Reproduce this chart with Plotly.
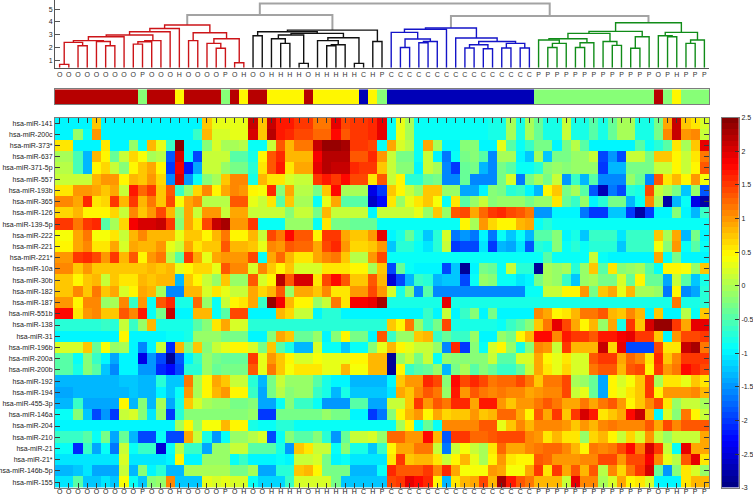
import plotly.graph_objects as go

W = 753
H = 497

mirnas = ["hsa-miR-141", "hsa-miR-200c", "hsa-miR-373*", "hsa-miR-637", "hsa-miR-371-5p", "hsa-miR-557",
          "hsa-miR-193b", "hsa-miR-365", "hsa-miR-126", "hsa-miR-139-5p", "hsa-miR-222", "hsa-miR-221",
          "hsa-miR-221*", "hsa-miR-10a", "hsa-miR-30b", "hsa-miR-182", "hsa-miR-187", "hsa-miR-551b",
          "hsa-miR-138", "hsa-miR-31", "hsa-miR-196b", "hsa-miR-200a", "hsa-miR-200b", "hsa-miR-192",
          "hsa-miR-194", "hsa-miR-455-3p", "hsa-miR-146a", "hsa-miR-204", "hsa-miR-210", "hsa-miR-21",
          "hsa-miR-21*", "hsa-miR-146b-5p", "hsa-miR-155"]

samples = list("OOOOOOOOOPOOOHOOOOPOHOOHHHHOHHHHHCHP"
               "CCCCCCCCCCCCCCCC"
               "PPPPPPPPPPPPPOPHPPP")

# strip colours, given as positions on the same jet scale as the heatmap
group_values = {"O": 2.17, "P": -0.25, "H": 0.44, "C": -2.72}

# expression values, one list per miRNA, 71 samples each
heat_rows = [
    [-1,-1,-1,-1,.7,-.95,-.95,-.95,-.95,-.95, -.95,-.95,-.95,-.95,-.95,-.95,.7,.3,.3,.3, .3,2.1,.7,2.1,1.7,1.7,1.5,1.5,1.2,1.2,
     1.9,1.4,1.5,1.5,1.6,1.9,-.9,.3,0,-.9, -.9,-.9,-.9,-.9,-.9,-.9,-.9,-.8,-.8,0, -.8,0,-.4,-.8,-.8,.1,-.8,-.8,-.5,-.8, -.4,0,0,-.8,-.8,-.3,.9,2.1,.7,.6, .2],
    [-1,-1,-.1,-.9,1,-.95,-.95,-.95,-.95,-.95, -.95,-.95,-.95,-.95,-.95,-.6,.8,.25,.25,.35, .35,2,.7,2.2,1.7,1.6,1.4,1.4,1.25,1.25,
     1.8,1.3,1.5,1.5,1.6,1.9,-.9,.3,0,-.9, -.9,-.9,-.9,-.9,-.9,-.9,-.9,-.8,-.8,0, -.8,0,-.4,-.8,-.8,.1,-.8,-.8,-.5,-.8, -.4,0,0,-.8,-.8,-.3,1.1,2.1,1,1.05, .1],
    [.6,.6,-1,-1,-1,.55,-1,-1,-.1,-.9, .85,.35,-.6,2.5,-1,-1,-.2,.2,0,0, .05,-.9,-.9,.1,1.3,.8,1.15,1.15,2.1,2.4,
     2.4,2.3,1.55,1.55,1.4,-.9,.95,.2,.05,-.9, .9,0,-1,-1,-.2,-.2,-1,-1,.35,-.5, -.9,-.6,-.3,-.3,-1,-.3,.05,-.5,-1,-1, -1,-1,-1,-.5,-.9,-.7,-.5,.6,0,.7, 1.9],
    [0,0,-.55,-1.3,.85,.5,-.4,.15,.65,.4, -.05,.05,-1.8,2,-1,-1.9,.1,.1,.1,-.5, -.5,-.8,.45,1.35,1.6,.85,.85,.85,1.85,2.2,
     2.2,2.2,1.3,1.3,1.6,1,.1,-.3,-.3,-.9, .1,-1,-1.7,-.9,-.3,-.2,-.5,-1.6,0,0, -1,-1.2,0,-1.2,-.3,-.3,-.1,-.1,.15,-1.9, -1.5,-1.9,.1,.1,-.3,.75,.7,.5,.1,.6, 1.15],
    [.05,.05,-.55,-1.3,.45,.65,.1,-.2,.5,.7, .95,.45,-2,1.85,-2.2,-1.4,.1,.1,-.1,-.3, -.3,-.7,.6,1.3,1.65,.6,.9,.9,1.9,2.2,
     2.1,2.1,1.6,1.5,1.5,.75,.1,-.2,-.2,-1, .1,0,-1.6,-2,-.4,-.3,-1.3,-1.6,-.3,-.5, -.9,-.9,-.7,-.2,-.1,-.2,-.1,-.1,-.1,-2, -1.3,-1.3,-.3,-.3,-.3,.1,.1,.5,.1,.45, 1.3],
    [.1,.1,.1,.1,.8,1,1,.45,.8,.7, 1,.65,-1.6,2,-1.5,-.9,-.2,0,.7,1.1, 1.1,-.8,.8,.55,.55,.2,.1,.1,1.5,1.7,
     1.5,1.8,1.45,1.45,.55,1.3,.1,.5,-.7,-.7, -.4,-.3,-1.6,-1.6,-.4,-1.6,-1.6,-1.6,-.3,.2, -1.7,-.3,0,-.3,.1,-1.5,-.6,-1.3,-.5,-1.6, -1.6,-1.6,-.1,-.4,-1.6,1.3,.6,.8,.45,1, .4],
    [.6,.6,1,1,.9,.75,.95,.15,1.7,1.25, 1.5,.7,1.35,-.6,-.1,.65,1.05,.45,.9,1.1, 1,.45,.4,1.6,-.2,.95,.05,.05,-.3,.7,
     1.75,0,0,0,-2.4,-2,.7,.5,.1,-.1, .7,.7,-.1,-.1,-1.4,-1.4,-1,-.2,-.3,-.7, -.6,-1,-1.3,.5,.7,-.3,0,-.5,-1.8,-2.7, -1.7,-1.9,-.7,-.8,1.45,.15,0,-.3,-1.2,-.1, -1.8],
    [1.1,1.1,.9,1.6,.6,.65,1.55,.8,1.5,.85, 1.2,.75,1.4,.4,.95,1.05,.05,.05,.05,1.3, 1.3,.35,.1,.6,-.5,.7,0,0,-.9,.3,
     .9,-.5,-.5,-.5,-2.6,-2.3,.55,-.1,.35,.6, .7,.4,-.9,.55,-.5,-.1,.1,-.2,-.1,-.1, -.1,-.3,-.1,-.1,.55,-.4,-.6,-.1,-1,-.7, -.3,-.3,-1.3,-.9,1.1,0,-2.8,-1.3,-.9,-2.4, -2.8],
    [.65,.65,.8,.45,.45,.45,.65,.1,1.05,.7, 1,1.45,.8,-.1,.9,.1,1,1,.1,.95, .95,.1,.1,.1,.1,-.2,.1,.1,-.3,.8,
     .1,.1,.1,.1,-1,.15,.15,.1,.1,.3, -.1,.75,-.1,1.3,1.45,.9,1.25,1.55,1.6,1.45, 1.3,1.2,-1.5,-1.5,-1,-1,-1,-1.7,-2,-2, -1.2,-1.2,-2,-2.8,-2,-1,-1,-.2,-1,-1.3, -.6],
    [1.5,1.5,1.15,1.5,1.6,-.5,-.05,.65,1.85,2, 2.05,2.15,1.55,-.2,.95,.6,1.4,2.1,2.3,1, 1,1.5,-.9,-.9,-.9,-.1,-.1,-.1,-.9,.55,
     -.3,-.3,-.4,-.4,-.4,-.9,-.9,-.9,-.9,-.9, -.9,-.9,-.9,-.9,.5,0,1,.65,.45,.45, .8,.95,-.9,-.7,-.9,-.9,-.9,-.9,-.9,-.9, -.9,-.9,-.9,-.9,-.9,-.9,-.9,-.9,-.9,-.9, -.9],
    [.4,.4,.9,1.15,.4,.4,.6,.1,.8,1.1, .85,.85,.85,.3,.75,.7,.45,.85,1.15,.5, .5,.85,.15,1.4,1.2,1.75,1.3,1.3,.5,1.5,
     1.5,.9,.7,.7,1,1.9,-1,-.8,-.4,-.8, -1.2,-.7,.2,-1.7,-1.5,-1.7,-1,-1.7,-.9,-1.2, -.9,-1.3,-.5,-.5,-.2,-1,-.8,-1.2,-.6,-.6, -.6,-1.1,-.6,-.6,-.6,.7,0,.9,-1.3,-.3, -1],
    [.45,.45,.95,1.05,.6,.6,.9,.2,.9,.85, .85,1,.3,.1,.95,.6,.7,.7,1.35,.85, .85,.7,.35,1.1,1,1.35,1.25,1.25,.9,1.4,
     1.6,1,.65,.65,.75,1,-1.2,-.7,-.7,-.9, -1.1,-.7,.15,-2,-1.9,-1.9,-1.1,-2,-1.3,-1.4, -1.1,-1.8,-.7,-.8,-.2,-.9,-.7,-.9,-.7,-.7, -.7,-1.2,-.6,-.6,-.6,.4,-.2,1,-.9,-.5, -.9],
    [1,1,1.5,1.6,1.45,1,1.55,.8,1.3,.5, 1,1.2,.05,-.5,1.5,.95,.3,.9,1,1, 1,1.45,-.9,.95,1.25,.85,.6,.6,.9,1.1,
     1.2,.7,.05,.05,1,1.4,-.9,-.9,-.9,-.9, -.9,-.9,-.9,-.9,-.9,-.9,-.9,-.9,-.9,-.9, -.9,-.9,-.9,-.5,-.9,-.9,-.9,-.9,.1,-.9, -.95,-.95,-.95,-.95,-.95,.9,-.9,-.3,-.95,-.95, -.95],
    [1.05,1.05,.7,1,.7,.7,.75,.75,.75,.7, .8,.75,.8,.3,.5,.65,.65,.3,1.3,1.05, 1.05,.2,1.1,.75,.45,.75,.2,.2,.25,.6,
     .6,.6,.45,.45,0,.75,-1.9,-.4,-.9,-.95, -.95,-.95,-1.9,-1.2,-2.9,-1,-.3,-.4,-.9,.15, -.7,-.7,-2.9,0,-.1,0,-.7,-.1,.7,-.5, .55,-.2,-.1,0,-.5,-.9,.45,.45,.4,-.1, .75],
    [.75,.75,.45,.75,.8,.1,.7,.55,.6,.8, .75,.8,.85,-1.3,.75,.45,.1,-.1,.7,-.1, -.1,1.3,.2,.5,2.2,1.3,2,2,.6,1.4,
     1.8,1.3,.75,.75,1.3,.8,-2.5,-1.9,-1.3,-.6, -.7,-1.3,-1.2,-1.2,-1.9,-.9,-.1,-.2,-.9,-.9, -1.1,-1,-.3,0,-.1,-.6,-1.2,-.1,0,-.3, -.3,.2,-.4,.5,-.4,-.4,-1.4,.1,-.5,-1.2, -.8],
    [.75,.75,1.05,.75,1.2,.7,.95,.25,.45,.9, .85,-.05,-1.6,-1.6,.8,.8,.2,.6,.3,.1, .1,.9,.65,.8,1.3,-.1,.95,.95,.75,1.1,
     .55,.55,1,1,1.4,1,.25,-.8,-.2,-1.6, -.5,-1.6,-1.6,-1.6,-1.6,-1.6,-1.6,-1.6,-1.6,-1.6, -1.6,-.9,-.9,.1,.1,.5,.5,1,-.3,.7, .9,.35,.8,0,0,-.1,-1.7,.5,-1.6,-1.4, -.7],
    [1,1,.5,1.05,1.05,-.1,0,1.1,-.6,1, -.9,1.3,1.6,-.8,-.8,1.25,-.1,-.9,.1,.45, .55,.9,-.6,2.4,1.85,.85,.45,.45,-.1,.1,
     1.2,.6,1.85,1.85,1.9,2.3,-.8,-.8,-.8,-.8, -.8,-.8,1.9,-.8,-.8,-.8,-.8,-.8,-.8,-.8, -.8,-.8,-.8,-.8,-.8,-.8,-.8,-.8,-.8,-.8, -.8,-.8,-.8,-.8,-.8,-.8,-.8,1.2,-.8,-.8, -.7],
    [1.8,1.75,.6,1,1.1,.75,.75,1.35,1.1,1.7, -.9,-.3,2.15,-1,-1,.8,.8,-.9,-.5,1.4, 1.4,-1,-1,-1,.8,.65,.15,.15,-1,-.7,
     -.7,-.95,-.95,-.95,-.95,-.95,-.95,-.95,-.95,-.95, -.6,-.95,.1,-.95,-.6,-.2,-.95,-.3,-1,-1, -1,-1,1.1,.9,.45,.6,.85,1.2,1.2,1.35, .8,.7,1.05,.85,-.95,.75,-1,-1,.05,-.9, .75],
    [-.75,-.75,-.75,-.75,-.75,-.65,-.75,.1,-.65,-.1, .8,-.85,-.85,-.85,-.85,-.5,-.2,.55,.9,.2, .2,-.75,-.75,-.75,-.75,-.75,-.75,-.75,-.75,-.75,
     -.75,-.75,-.75,-.75,-.75,-.75,.7,.45,1.2,-.1, -.6,-.3,1.4,-.85,-.85,-.85,-.85,-.85,-.9,-.6, -.5,-.2,.7,1.15,1.9,1.45,.95,.45,.85,-.1, .9,-.8,1.55,.7,2,2.4,2.4,1.55,.9,1.95, 1.95],
    [-1,-1,-1,-1,-1,-1,-1,.45,-1,-1, -.95,-.95,-.9,-.9,-.8,-.1,-.1,-.1,-.3,-.3, -.3,-1,-1,-.2,.9,.75,-.4,-.4,-.1,-1,
     -.2,.45,-.3,-.3,-1,1.3,-.6,-.1,-.1,.7, .85,-.6,-.4,-.6,-.6,-.1,-1,-1,-.1,-.3, .5,.8,1.75,1.75,1.05,1.65,1.55,1.55,1.35,1.7, 1.7,1.85,1.9,1.5,1.5,.7,-1,1,1.4,1.45, 1.5],
    [.2,.2,.2,.75,-.4,.4,-.1,0,-1,-1.6, -.95,.1,-2.1,.8,-.3,.7,-.2,.1,.3,.45, .45,.2,-.3,.75,-.5,-.8,-1.3,-1.3,.2,-.9,
     -.9,-1.2,-.9,-.9,-.2,.3,.85,.5,.3,.15, .1,-.1,-1.6,1.6,-2,-.2,-.9,.2,.5,-.1, -.8,-.2,1.05,1,.15,1.5,.85,.85,.85,2.15, .65,1.9,-1.9,-1.9,-1.9,1.4,.6,.6,2.1,2.3, 1.2],
    [-.5,-.5,-.9,-.2,-.6,-1,-1.4,-1,-1,-2.4, -1.5,-1.9,-2.9,-1.8,-1,-.6,-.1,-.3,-.4,-.4, -.4,1.5,.3,1,.7,.45,.2,.2,.4,.3,
     .3,.3,.5,.5,.85,.85,-2.9,-.1,.1,-.3, .1,-.9,-.1,-.2,-.2,-.2,-.2,.1,-.5,-.5, .2,.2,.9,.45,.35,.6,.2,.25,1.3,1.5, 1.5,.95,1.25,1.05,.6,1.6,.75,1.1,1.5,1.5, 1.5],
    [-.5,-.5,-.8,-.2,-.5,-1.2,-1.6,-1,-1,-1.5, -1.5,-2.1,-2.3,-1.9,-.7,-.7,-.1,-.4,-.3,-.3, -.3,1.3,.35,1.2,.75,.4,.55,.55,.55,.35,
     .35,.8,.4,.4,.85,.85,-2.9,.45,-.6,-.5, -.4,-.1,-1.3,-.3,0,-.5,-.2,-.4,-.6,-.6, -.4,.15,.95,.6,.35,.65,.25,.2,1.2,1.3, 1.3,.8,1.3,1.45,.5,1.5,1,1.15,1.8,1.6, 1.45],
    [-1.3,-1.3,-1.3,-1.3,-1.3,-1.3,-1.3,-1.2,-1.2,-1.3, -1.3,-.7,-1.2,-1.2,1.2,0,.5,.9,.75,.1, .1,-.7,-1.3,-.3,.1,-.1,-.1,-.1,-.5,-.8,
     -1,-1,-1.3,-1.3,-1.3,-1.3,-1,.7,1,1, 1.6,1.4,-.2,1.8,1.4,1.6,1.4,1.2,1.25,1.25, 1.4,1.2,.7,1.2,1.2,1.45,0,-.1,-.4,-1.4, .45,.2,.4,.7,1.5,0,.6,.6,.35,.7, .6],
    [-1.4,-1.4,-1.35,-1.35,-1.3,-1.3,-1.3,-1.3,-1.25,-1.3, -1.3,-1,-1.2,-.9,1,0,.5,.85,1,.45, .45,-.6,-1.4,-.3,.05,-.2,-.1,-.1,-.6,-.8,
     -1.3,-.8,-1.2,-1.2,-1.2,-1.2,-1.1,.9,.7,1.1, 1.3,1.2,-.1,1.7,1,1.35,1.2,1.1,1.2,1.1, 1.1,.9,1,1.1,1.1,1.4,.1,.3,-.4,-1.4, .45,.3,.55,.7,1.5,.5,1,1,1,1.1, .8],
    [-1.3,-1.3,-.6,-1.4,-1.4,-1.4,-1.4,.45,-1.3,-.2, -1.3,0,-1.4,-.8,.7,.2,0,-.1,-.1,-.3, -.3,-.2,-1.4,-1.4,-.9,-.2,-.6,-.6,-.9,-1.5,
     -1.5,-1.5,-.5,-.5,-1.4,-1.4,.1,.1,.7,1.5, 1,1.3,1.2,1.6,1.6,.9,1.7,1.7,1,.7, 1,1,1.2,1.3,1.2,.9,.9,1.2,.9,1.2, 1.3,1,.45,.7,1.05,1.4,.55,-.1,.1,.1, 0],
    [-.9,-.9,-.2,-1.2,-1.9,-1.5,-2,.1,.25,-.2, -1.1,-.1,-2,-.7,-.2,-.2,-.2,-.2,-.2,-.2, -.2,-.1,-2,-2,-.3,-.3,-.3,-.3,-.3,-.1,
     -.3,-.3,-1,-1,-2,-1.7,-.2,.5,.8,1, .45,.9,.65,.75,.75,1,.7,.8,1.25,1.25, .9,.5,1.35,.9,1.55,.7,1.55,2,1.7,.6, .75,.95,1.8,2.1,.8,-1,.2,-.2,1.15,.5, .15],
    [-1,-1,-1,-1,-1,-1,-1,-1,-1,-1, -1,-1,-1,0,.45,-.1,.4,.4,.8,.45, .45,-.8,-.9,-.9,-.7,-.7,-.9,-.9,-.9,-.9,
     -.9,-.9,-.9,-.9,-.9,-.9,-.9,0,.45,-.9, -.4,-.9,1.1,1.1,1.1,1.1,1.3,1.3,.35,.7, 1.05,.85,1.05,1.1,1.1,1,.7,1,.8,1.1, 1.2,1.05,1.05,1.05,1.35,.9,1.4,1.1,1.35,1.35, 1.35],
    [-.6,-.6,-.6,-.5,-.9,-.3,-1.4,-.4,-1.3,-1.9, -1.9,-.9,-1.9,-1.9,.9,.15,-.8,-1.5,-.9,-.1, -.1,.05,.2,-1.9,-.9,-.2,-.45,-.45,-.2,-.7,
     -1.5,-.4,.1,.1,.2,-.1,1.25,1.25,1,1, 1.75,.8,-1.8,1.5,1.5,1.25,1.25,1.3,1.4,1.4, 1.4,1.1,1,.6,.85,.55,.55,-.1,.65,.8, .5,.1,.65,.2,1,.1,-.1,.15,.15,.15, .9],
    [-.9,-.9,-2.1,-.6,-1.4,-.9,-1.7,.1,-.9,-.6, -.6,-2.5,-.9,.05,-.6,-.6,-1.4,-.1,-.1,.1, .1,-.5,-.5,-.5,-.8,-1.5,.7,.55,.1,.1,
     -.9,-.2,-.8,-.8,-1.2,-.6,.5,.9,.9,1.15, 1.15,.1,-1.7,.1,.4,.1,0,.6,1.25,.9, .9,1.1,1.2,1.25,1.25,1.1,.85,.45,1.2,1.05, 1.2,1.4,1.8,1.2,2,1.5,.1,-.9,1.9,.9, .9],
    [-1.1,-1.1,-1.1,-1.1,-1.1,-1.1,-1.1,.2,-1.1,-1.1, -1.1,-1.1,-1,.45,-1,-1,-.1,-.1,-.1,-.9, -.6,-1,-1,-1,-.9,-1,.15,.15,.25,-.3,
     -1,-.9,-1.05,-1.05,-1.05,-1.05,.6,1.5,.7,.85, .85,.6,.15,.5,.8,.3,0,.5,1,.6, .45,.45,1.35,1.25,1,1,1,1.05,1.05,1.4, 1.4,1,1.45,1.45,1.85,1.05,.35,.05,1.3,1.9, .6],
    [-1.3,-1.3,-1.2,-1.05,-1.4,-1.4,-1.4,.15,-1.3,-.2, -1,-.7,-1.3,-1.3,0,0,0,0,0,-.3, -.3,0,-1.4,-1.4,-.7,-.7,.7,.8,.5,-.3,
     -.3,-.3,-1.3,-1.3,-1.3,-.9,1.6,1.35,1.3,1.35, 1.5,1.05,1.6,.95,.4,.4,.4,1,.9,.4, .4,.9,1.5,.6,1.5,.9,1.35,.8,1.35,.05, 1.1,.65,1.2,1.5,2,-.4,-1.5,-.2,.6,.2, -.1],
    [-1.05,-1.05,-.5,-1.2,-1.2,-1.05,-1.25,.4,-.9,-1.2, -.2,-.1,1.05,-1.2,-1.2,-1.2,.3,.25,.3,.2, .2,-.9,-1.15,-1.15,-1.15,-.6,.25,.25,.25,.25,
     -.3,-1.2,-1.2,-1.2,-1.2,-1.2,1.4,1.5,1.9,1.8, 1.6,.5,-1.3,.6,.8,.9,1.4,.8,2.3,1.7, 1.3,1.2,.8,.8,.8,.1,1.9,1.1,1.05,0, .2,.9,.45,.6,.2,-1,-1,-1,.55,.85, .85],
]
for row in heat_rows:
    assert len(row) == 71, len(row)
assert len(heat_rows) == 33 and len(samples) == 71

# dendrogram merges as (height, left, right), a plain int is a leaf
n1 = (2.39, (0.66, 0, 1), (2.12, 2, 3))
n2 = (2.46, 4, (2.12, 5, 6))
n3 = (2.83, (2.52, n1, n2), 7)
n4 = (2.52, (2.44, (2.25, 8, 9), 10), 11)
n5 = (3.48, (3.22, (2.96, n3, n4), 12), 13)
n6 = (2.67, (2.31, 16, (1.92, 17, 18)), (0.79, 19, 20))
red_tree = (3.75, n5, (3.14, (2.52, 14, 15), n6))

b1 = (2.96, (2.67, 23, (2.31, 24, 25)), (0.74, 26, 27))
b2 = (2.52, 28, (2.2, (2.12, 29, 30), 31))
b3 = (3.09, b1, (2.75, b2, (0.74, 32, 33)))
black_tree = (3.35, (3.22, (2.91, 21, 22), b3), (2.46, 34, 35))

c1 = (2.65, (1.99, 37, 38), (2.46, (2.36, 39, 40), 41))
c2 = (3.41, (3.17, 36, c1), 42)
c3 = (2.46, (2.2, (1.94, 44, 45), (1.89, 46, 47)), (2.31, (1.94, 48, 49), (1.94, 50, 51)))
blue_tree = (3.51, c2, (2.73, 43, c3))

g1 = (2.67, (2.57, 52, (2.31, (1.99, 53, 54), 55)), (2.36, (1.99, 56, 57), 58))
g2 = (3.09, g1, (2.46, 59, (2.15, 60, 61)))
g3 = (3.25, g2, (2.83, (1.92, 62, 63), 64))
g4 = (3.17, (2.91, 65, (2.83, 66, 67)), (2.57, (2.31, 68, 69), 70))
green_tree = (3.93, g3, g4)

upper_left = 4.53
upper_right = 4.45
upper_top = 5.44
tree_base = 0.4

colorbar_levels = [-3, -2.5, -2, -1.5, -1, -0.5, 0, 0.5, 1, 1.5, 2, 2.5]
colorbar_labels = ["-3", "-2.5", "-2", "-1.5", "-1", "-0.5", "0", "0.5", "1", "1.5", "2", "2.5"]


def jet_scale(n=64):
    # matlab style jet, in n flat steps
    def clip(v):
        return max(0.0, min(1.0, v))
    stops = []
    for i in range(n):
        t = (i + 0.5) / n
        r = clip(min(4 * t - 1.5, -4 * t + 4.5))
        g = clip(min(4 * t - 0.5, -4 * t + 3.5))
        b = clip(min(4 * t + 0.5, -4 * t + 2.5))
        col = "rgb(%d,%d,%d)" % (r * 255, g * 255, b * 255)
        stops.append([i / n, col])
        stops.append([(i + 1) / n, col])
    return stops


def tree_lines(node, xs, ys):
    """Walk a merge tree, add its U shapes, give back (x, height) of its top."""
    if isinstance(node, int):
        return node, tree_base
    h, left, right = node
    xl, hl = tree_lines(left, xs, ys)
    xr, hr = tree_lines(right, xs, ys)
    xs += [xl, xl, xr, xr, None]
    ys += [hl, h, h, hr, None]
    return (xl + xr) / 2, h


def add_tree(fig, node, color):
    xs, ys = [], []
    tree_lines(node, xs, ys)
    fig.add_trace(go.Scatter(x=xs, y=ys, mode="lines", xaxis="x2", yaxis="y2", hoverinfo="skip",
                             line=dict(color=color, width=1.4), showlegend=False))


scale = jet_scale()
fig = go.Figure()

fig.add_trace(go.Heatmap(z=heat_rows, x=list(range(71)), y=list(range(33)), zmin=-3, zmax=2.5,
                         colorscale=scale, showscale=False))

fig.add_trace(go.Heatmap(z=[[group_values[s] for s in samples]], x=list(range(71)), y=[0], zmin=-3, zmax=2.5,
                         colorscale=scale, showscale=False, xaxis="x3", yaxis="y3"))

# the colorbar is its own little heatmap, plotly's own one pushes the margins around
bar_steps = [-3 + 5.5 * (i + 0.5) / 64 for i in range(64)]
fig.add_trace(go.Heatmap(z=[[v] for v in bar_steps], x=[0], y=bar_steps, zmin=-3, zmax=2.5,
                         colorscale=scale, showscale=False, xaxis="x4", yaxis="y4"))

# upper gray merges, the clusters below keep their own colour
gx, gy = [], []
xa, ha = tree_lines(red_tree, [], [])
xb, hb = tree_lines(black_tree, [], [])
xc, hc = tree_lines(blue_tree, [], [])
xd, hd = tree_lines(green_tree, [], [])
gx += [xa, xa, xb, xb, None, xc, xc, xd, xd, None]
gy += [ha, upper_left, upper_left, hb, None, hc, upper_right, upper_right, hd, None]
mid_l = (xa + xb) / 2
mid_r = (xc + xd) / 2
gx += [mid_l, mid_l, mid_r, mid_r]
gy += [upper_left, upper_top, upper_top, upper_right]
fig.add_trace(go.Scatter(x=gx, y=gy, mode="lines", xaxis="x2", yaxis="y2", hoverinfo="skip",
                         line=dict(color="#a3a3a3", width=2), showlegend=False))
add_tree(fig, red_tree, "#cc1418")
add_tree(fig, black_tree, "#111111")
add_tree(fig, blue_tree, "#1414c8")
add_tree(fig, green_tree, "#108c18")

label_font = dict(family="Liberation Sans", size=7, color="#222222")
x_dom = [55 / W, 709 / W]
y_dom = [1 - 487.7 / H, 1 - 117.5 / H]
axis_gray = "#7d7d7d"

fig.update_layout(
    width=W, height=H, margin=dict(l=0, r=0, t=0, b=0, autoexpand=False), paper_bgcolor="white",
    plot_bgcolor="white", showlegend=False,
    xaxis=dict(domain=x_dom, range=[-0.5, 70.5], tickmode="array", tickvals=list(range(71)), ticktext=samples,
               tickangle=0, ticks="inside", ticklen=5, tickcolor="#3a3a3a", tickwidth=1, tickfont=label_font,
               ticklabelstandoff=-3, showline=True, linecolor=axis_gray, mirror="ticks", showgrid=False,
               zeroline=False, anchor="y", automargin=False),
    yaxis=dict(domain=y_dom, range=[32.5, -0.5], tickmode="array",
               tickvals=list(range(33)), ticktext=mirnas, ticks="inside", ticklen=5, tickcolor="#3a3a3a", tickwidth=1,
               tickfont=label_font,
               showline=True, linecolor=axis_gray, mirror="ticks", showgrid=False, zeroline=False, anchor="x",
               automargin=False),
    xaxis2=dict(domain=x_dom, range=[-0.5, 70.5], tickmode="array", tickvals=list(range(71)), ticktext=samples,
                tickangle=0, ticks="", tickfont=dict(family="Liberation Sans", size=7, color="#333333"),
                showline=True, linecolor="#555555", showgrid=False, zeroline=False, anchor="y2", automargin=False),
    yaxis2=dict(domain=[1 - 67.7 / H, 1], range=[tree_base, 5.71], tickvals=[1, 2, 3, 4, 5], ticks="inside",
                ticklen=5, tickcolor="#555555", tickfont=label_font, showline=True, linecolor="#555555",
                showgrid=False, zeroline=False, anchor="x2", automargin=False),
    xaxis3=dict(domain=x_dom, range=[-0.5, 70.5], showticklabels=False, ticks="", showline=True,
                linecolor=axis_gray, mirror=True, showgrid=False, zeroline=False, anchor="y3", automargin=False),
    yaxis3=dict(domain=[1 - 104 / H, 1 - 89.3 / H], range=[-0.5, 0.5], showticklabels=False, ticks="",
                showline=True, linecolor=axis_gray, mirror=True, showgrid=False, zeroline=False, anchor="x3",
                automargin=False),
    xaxis4=dict(domain=[721.7 / W, 739 / W], range=[-0.5, 0.5], showticklabels=False, ticks="", showline=True,
                linecolor=axis_gray, mirror=True, showgrid=False, zeroline=False, anchor="y4", automargin=False),
    yaxis4=dict(domain=y_dom, range=[-3, 2.5], side="right", tickmode="array", tickvals=colorbar_levels,
                ticktext=colorbar_labels, ticks="inside", ticklen=4, tickcolor="#333333", tickfont=label_font,
                showline=True, linecolor=axis_gray, mirror=True, showgrid=False, zeroline=False, anchor="x4",
                automargin=False),
)

fig.write_html("out.html", config=dict(displayModeBar=False), post_script="document.body.style.margin='0';")
